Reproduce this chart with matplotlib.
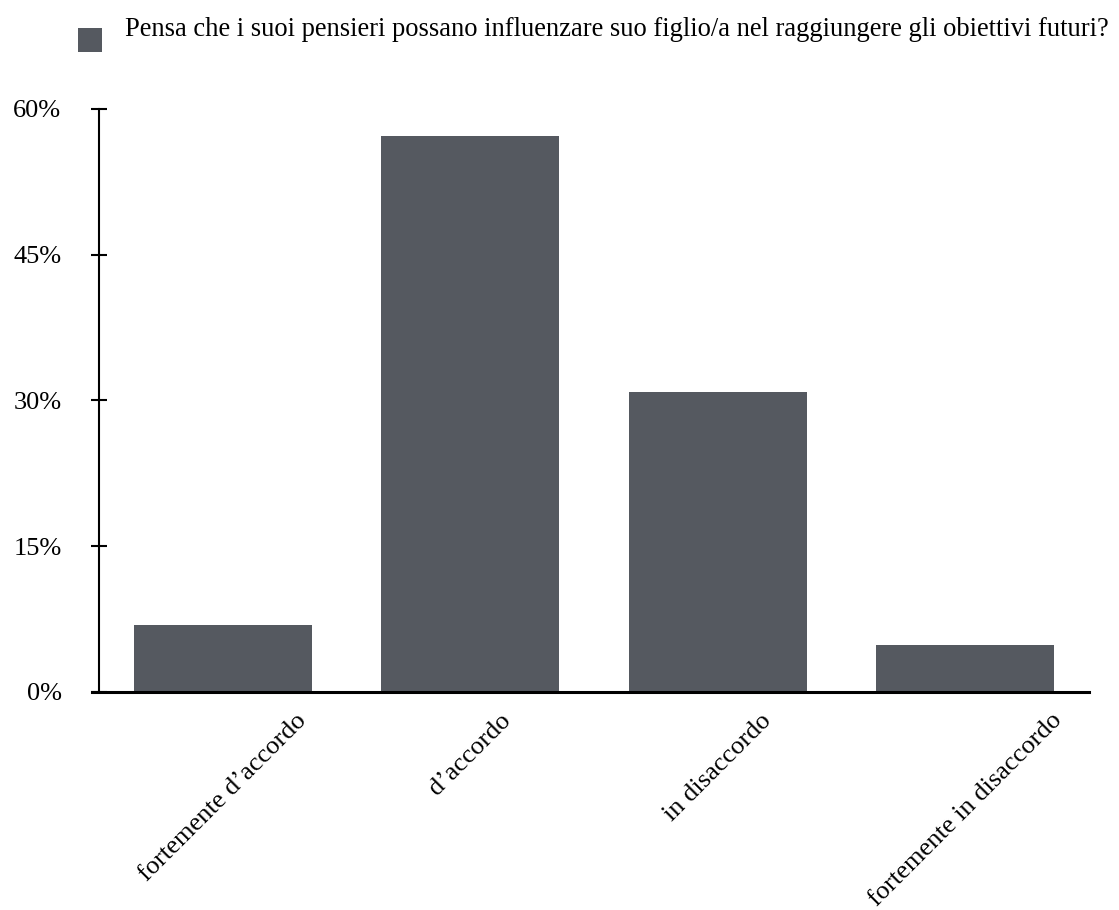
import matplotlib
matplotlib.use("Agg")
import matplotlib.pyplot as plt
from matplotlib.patches import Rectangle

categories = ["fortemente d\u2019accordo", "d\u2019accordo", "in disaccordo", "fortemente in disaccordo"]
values = [6.9, 57.2, 30.9, 4.8]
yticks = [0, 15, 30, 45, 60]
ytick_labels = ["0%", "15%", "30%", "45%", "60%"]
series_name = "Pensa che i suoi pensieri possano influenzare suo figlio/a nel raggiungere gli obiettivi futuri?"

plt.rcParams['font.family'] = ['Liberation Serif', 'DejaVu Serif']
W, H = 1119, 910
fig = plt.figure(figsize=(W / 100, H / 100), dpi=100)
ax = fig.add_axes([99 / W, 1 - 692 / H, (1089 - 99) / W, (692 - 109) / H])

color = "#555960"
x = list(range(len(categories)))
ax.bar(x, values, width=0.72, color=color, zorder=2)
ax.set_xlim(-0.5, len(categories) - 0.5)
ax.set_ylim(0, 60)
ax.set_yticks(yticks)
ax.set_yticklabels(ytick_labels, fontsize=19)
ax.set_xticks(x)
ax.set_xticklabels(categories, fontsize=19, rotation=45, ha="center", va="top")
ax.tick_params(axis="x", length=0, pad=12.5)
ax.tick_params(axis="y", length=11, width=1.5, direction="inout", pad=21.5, colors="black")
for s in ["top", "right"]:
    ax.spines[s].set_visible(False)
ax.spines["left"].set_linewidth(1.5)
ax.spines["bottom"].set_linewidth(2.2)
ax.spines["bottom"].set_bounds(-0.5 - 7 / 247.5, len(categories) - 0.5)
ax.spines["bottom"].set_clip_on(False)

# legend
fig.patches.append(Rectangle((78 / W, 1 - 52 / H), 24 / W, 24 / H, transform=fig.transFigure,
                             facecolor=color, edgecolor="none"))
fig.text(125 / W, 1 - 29 / H, series_name, fontsize=19.1, va="center", ha="left")

fig.savefig("out.png", dpi=100)
